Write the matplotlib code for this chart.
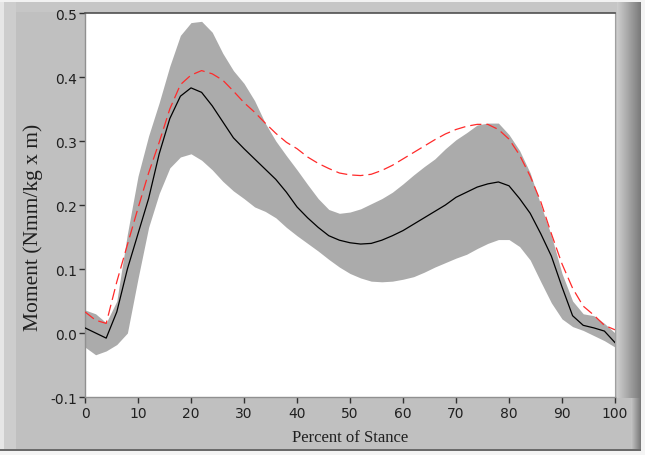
import matplotlib
matplotlib.use("Agg")
import matplotlib.pyplot as plt
from matplotlib import font_manager
from matplotlib.patches import Rectangle
import numpy as np

# ---- data ----
pct = list(range(0, 101, 2))

mean_moment = [0.008, 0.0, -0.008, 0.033, 0.10, 0.155, 0.21, 0.28, 0.335, 0.37,
               0.383, 0.376, 0.355, 0.33, 0.305, 0.288, 0.272, 0.256, 0.24, 0.22,
               0.197, 0.18, 0.165, 0.152, 0.145, 0.141, 0.139, 0.14, 0.145, 0.152,
               0.16, 0.17, 0.18, 0.19, 0.20, 0.212, 0.22, 0.228, 0.233, 0.236,
               0.23, 0.21, 0.187, 0.155, 0.12, 0.072, 0.027, 0.012, 0.008, 0.003,
               -0.015]

upper_band = [0.036, 0.03, 0.016, 0.05, 0.155, 0.245, 0.308, 0.36, 0.417, 0.465,
              0.485, 0.487, 0.47, 0.437, 0.41, 0.39, 0.363, 0.328, 0.30, 0.277,
              0.255, 0.232, 0.21, 0.193, 0.187, 0.189, 0.194, 0.202, 0.21, 0.22,
              0.233, 0.247, 0.26, 0.272, 0.288, 0.302, 0.313, 0.325, 0.328, 0.328,
              0.31, 0.285, 0.25, 0.2, 0.152, 0.093, 0.05, 0.03, 0.027, 0.015,
              0.0]

lower_band = [-0.022, -0.034, -0.028, -0.018, 0.0, 0.085, 0.165, 0.218, 0.258, 0.275,
              0.28, 0.27, 0.255, 0.237, 0.222, 0.21, 0.197, 0.19, 0.18, 0.165,
              0.152, 0.14, 0.128, 0.115, 0.103, 0.093, 0.086, 0.081, 0.08, 0.081,
              0.084, 0.088, 0.095, 0.103, 0.11, 0.117, 0.123, 0.132, 0.14, 0.146,
              0.146, 0.135, 0.114, 0.08, 0.047, 0.022, 0.01, 0.004, -0.004, -0.012,
              -0.022]

subject_moment = [0.033, 0.02, 0.015, 0.08, 0.138, 0.195, 0.25, 0.298, 0.35, 0.388,
                  0.403, 0.41, 0.405, 0.395, 0.378, 0.36, 0.345, 0.328, 0.312, 0.298,
                  0.288, 0.275, 0.265, 0.257, 0.25, 0.247, 0.246, 0.248, 0.254, 0.262,
                  0.272, 0.282, 0.292, 0.302, 0.311, 0.318, 0.323, 0.326, 0.326, 0.318,
                  0.303, 0.278, 0.245, 0.205, 0.155, 0.108, 0.07, 0.042, 0.028, 0.012,
                  0.005]

x_ticks = [0, 10, 20, 30, 40, 50, 60, 70, 80, 90, 100]
y_ticks = [-0.1, 0.0, 0.1, 0.2, 0.3, 0.4, 0.5]

installed = {f.name for f in font_manager.fontManager.ttflist}
tick_family = ["Liberation Sans Narrow"] if "Liberation Sans Narrow" in installed else ["DejaVu Sans"]
tick_size = 11 if tick_family[0] == "Liberation Sans Narrow" else 10

W, H = 645, 456
fig = plt.figure(figsize=(W / 100, H / 100), dpi=100, facecolor="#c0c0c0")

def px_rect(x0, y0, x1, y1, color, z=-5):
    fig.patches.append(Rectangle((x0 / W, 1 - y1 / H), (x1 - x0) / W, (y1 - y0) / H,
                                 transform=fig.transFigure, facecolor=color,
                                 edgecolor="none", zorder=z))

# frame decoration
px_rect(0, 0, W, 3, "#f2f2f2")
px_rect(0, 3, W, 13, "#c6c6c6")
px_rect(0, 3, 4, H, "#e6e6e6")
px_rect(4, 3, 16, 450, "#cdcdcd")
px_rect(0, 450, W, 452, "#6a6a6a")
px_rect(0, 452, W, H, "#f4f4f4")
# right bevel gradient (wide next to the plot, narrower below it)
n = 24
for i in range(n):
    c = 0.80 - 0.32 * i / (n - 1)
    px_rect(617 + i, 3, 618 + i, 399, (c, c, c))
m = 10
for i in range(m):
    c = 0.76 - 0.28 * i / (m - 1)
    px_rect(631 + i, 399, 632 + i, 450, (c, c, c))
px_rect(641, 0, W, H, "#f4f4f4")

ax = fig.add_axes([85 / W, 1 - 398 / H, (615 - 85) / W, (398 - 14) / H])
ax.set_facecolor("white")

ax.fill_between(pct, lower_band, upper_band, color="#ababab", linewidth=0, zorder=1)
ax.plot(pct, mean_moment, color="black", linewidth=0.9, zorder=3)
ax.plot(pct, subject_moment, color="#ff2a2a", linewidth=0.9,
        linestyle=(0, (9, 4)), zorder=4)

ax.set_xlim(0, 100)
ax.set_ylim(-0.1, 0.5)
ax.set_xticks(x_ticks)
ax.set_yticks(y_ticks)
ax.set_xticklabels([str(v) for v in x_ticks])
ax.set_yticklabels(["%.1f" % v for v in y_ticks])
ax.tick_params(direction="out", length=4, width=1, color="#303030",
               labelsize=tick_size, pad=1.5, labelcolor="#202020")
ax.tick_params(axis="x", pad=2.5)
for lab in ax.get_xticklabels() + ax.get_yticklabels():
    lab.set_family(tick_family)

for side in ["left", "bottom"]:
    ax.spines[side].set_color("#909090")
    ax.spines[side].set_linewidth(1)
ax.spines["top"].set_color("#505050")
ax.spines["top"].set_linewidth(1.2)
ax.spines["right"].set_color("#a0a0a0")

fig.text(350 / W, 1 - 438 / H, "Percent of Stance", ha="center", va="center",
         family="Liberation Serif", fontsize=12, color="#202020")
fig.text(33 / W, 1 - 227 / H, "Moment (Nmm/kg x m)", ha="center", va="center",
         rotation=90, family="Liberation Serif", fontsize=15.5, color="#202020")

fig.savefig("out.png", dpi=100, facecolor=fig.get_facecolor())
